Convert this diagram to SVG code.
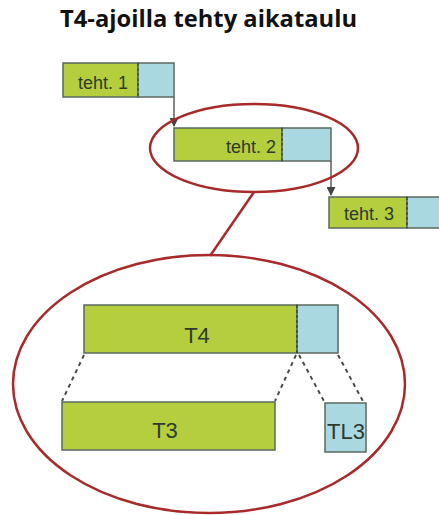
<svg xmlns="http://www.w3.org/2000/svg" width="439" height="515" viewBox="0 0 439 515">
<style>
.g{fill:#b4ce3e;stroke:#5a6a5e;stroke-width:1.5}
.b{fill:#aad8e0;stroke:#5a6a5e;stroke-width:1.5}
.div{stroke:#3e4a3e;stroke-width:1.5;stroke-dasharray:3,2;fill:none}
.t{font-family:"Liberation Sans",Arial,sans-serif;fill:#2e3a2e}
.red{fill:none;stroke:#a82a2a;stroke-width:2.5}
.con{stroke:#444;stroke-width:1.3;fill:none}
.dl{stroke:#4a4a4a;stroke-width:2;stroke-dasharray:4,4;fill:none}
</style>
<defs>
<marker id="ah" markerWidth="9" markerHeight="9" refX="8" refY="4.5" orient="auto" markerUnits="userSpaceOnUse">
<path d="M0,0 L9,4.5 L0,9 Z" fill="#444"/>
</marker>
</defs>
<rect width="439" height="515" fill="#ffffff"/>
<text x="60" y="27" font-family="'Open Sans','DejaVu Sans',sans-serif" font-weight="bold" font-size="23" fill="#111" textLength="297" lengthAdjust="spacingAndGlyphs">T4-ajoilla tehty aikataulu</text>

<g id="connectors">
<path class="con" d="M174,97 L174,126" marker-end="url(#ah)"/>
<path class="con" d="M331,161 L331,195" marker-end="url(#ah)"/>
<path class="dl" d="M84,355 L62,401"/>
<path class="dl" d="M296,355 L275,401"/>
<path class="dl" d="M299,355 L325,403"/>
<path class="dl" d="M338,355 L364,403"/>
</g>

<g id="teht1">
<rect class="g" x="63" y="63" width="75" height="34"/>
<rect class="b" x="138" y="63" width="36" height="34"/>
<line class="div" x1="138" y1="63" x2="138" y2="97"/>
<text class="t" x="103" y="89" font-size="18" text-anchor="middle">teht. 1</text>
</g>

<g id="teht2">
<rect class="g" x="174" y="128" width="108" height="33"/>
<rect class="b" x="282" y="128" width="49" height="33"/>
<line class="div" x1="282" y1="128" x2="282" y2="161"/>
<text class="t" x="276" y="153" font-size="18" text-anchor="end">teht. 2</text>
</g>

<g id="teht3">
<rect class="g" x="329" y="197" width="78" height="31"/>
<rect class="b" x="407" y="197" width="40" height="31"/>
<line class="div" x1="407" y1="197" x2="407" y2="228"/>
<text class="t" x="369" y="220" font-size="18" text-anchor="middle">teht. 3</text>
</g>

<g id="zoom">
<ellipse class="red" cx="254" cy="148" rx="104" ry="44"/>
<line class="red" x1="254" y1="192" x2="210" y2="256"/>
<ellipse class="red" cx="209" cy="384" rx="196" ry="129"/>
</g>

<g id="T4">
<rect class="g" x="84" y="305" width="213" height="48"/>
<rect class="b" x="297" y="305" width="41" height="48"/>
<line class="div" x1="297" y1="305" x2="297" y2="353"/>
<text class="t" x="197" y="343" font-size="22" text-anchor="middle">T4</text>
</g>

<g id="T3">
<rect class="g" x="62" y="402" width="213" height="48"/>
<text class="t" x="165" y="438" font-size="22" text-anchor="middle">T3</text>
</g>

<g id="TL3">
<rect class="b" x="325" y="403" width="41" height="49"/>
<text class="t" x="346" y="439" font-size="22" text-anchor="middle">TL3</text>
</g>
</svg>
